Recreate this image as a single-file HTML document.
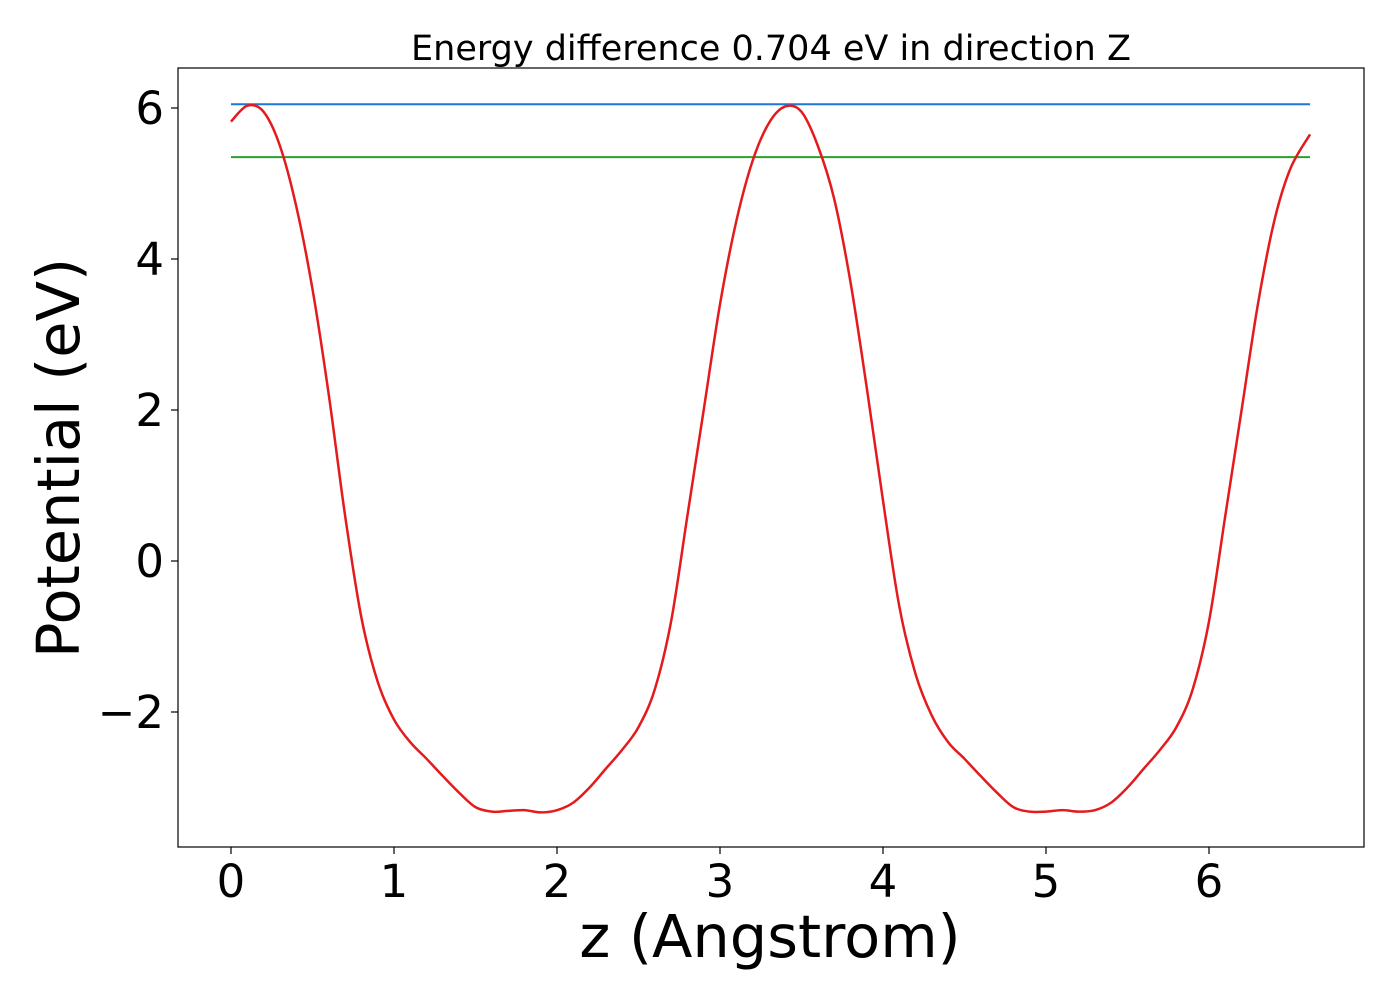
<!DOCTYPE html>
<html><head><meta charset="utf-8"><style>
body{margin:0;background:#fff;}
svg{display:block;font-family:"DejaVu Sans","Liberation Sans",sans-serif;}
</style></head><body>
<svg id="chart" width="1400" height="1000" viewBox="0 0 1400 1000" xmlns="http://www.w3.org/2000/svg">
<rect width="1400" height="1000" fill="#fff"/>
<text x="771" y="60" font-size="35" text-anchor="middle">Energy difference 0.704 eV in direction Z</text>
<g id="marks"></g>
<rect x="178" y="68" width="1186" height="779" fill="none" stroke="#000" stroke-width="1.2"/>
<g id="ticks"></g>
<text x="770" y="957" font-size="59" text-anchor="middle">z (Angstrom)</text>
<text transform="translate(79,458) rotate(-90)" font-size="59" text-anchor="middle">Potential (eV)</text>
</svg>
<script>
const xTicks=[0,1,2,3,4,5,6];
const yTicks=[-2,0,2,4,6];
const zValues=[0,0.1,0.2,0.3,0.4,0.5,0.6,0.7,0.8,0.9,1.0,1.1,1.2,1.3,1.4,1.5,1.6,1.7,1.8,1.9,2.0,2.1,2.2,2.3,2.4,2.5,2.6,2.7,2.8,2.9,3.0,3.1,3.2,3.3,3.4,3.5,3.6,3.7,3.8,3.9,4.0,4.1,4.2,4.3,4.4,4.5,4.6,4.7,4.8,4.9,5.0,5.1,5.2,5.3,5.4,5.5,5.6,5.7,5.8,5.9,6.0,6.1,6.2,6.3,6.4,6.5,6.62];
const potential=[5.82,6.03,5.95,5.5,4.7,3.6,2.2,0.6,-0.75,-1.6,-2.1,-2.4,-2.62,-2.85,-3.07,-3.26,-3.32,-3.31,-3.3,-3.33,-3.3,-3.2,-3.0,-2.75,-2.5,-2.2,-1.7,-0.8,0.6,2.0,3.4,4.5,5.3,5.8,6.02,5.95,5.5,4.8,3.7,2.3,0.8,-0.6,-1.5,-2.05,-2.4,-2.62,-2.85,-3.07,-3.26,-3.32,-3.32,-3.3,-3.32,-3.3,-3.2,-3.0,-2.75,-2.5,-2.2,-1.7,-0.8,0.6,2.0,3.4,4.5,5.2,5.65];
const levelValues=[6.05,5.35];
const levelColors=['#1f77d4','#2ca02c'];
const xMin=0,xMax=6.62;
const X=v=>231+v*163;
const Y=v=>561-v*75.5;
const NS='http://www.w3.org/2000/svg';
const marks=document.getElementById('marks');
const ticks=document.getElementById('ticks');
levelValues.forEach((lv,i)=>{
  const l=document.createElementNS(NS,'line');
  
  
  l.setAttribute('x1',X(xMin));l.setAttribute('x2',X(xMax));
  l.setAttribute('y1',Y(lv));l.setAttribute('y2',Y(lv));
  l.setAttribute('stroke',levelColors[i]);l.setAttribute('stroke-width','2');
  marks.appendChild(l);
});
const pts=zValues.map((z,i)=>[X(z),Y(potential[i])]);
let d='M'+pts[0][0]+','+pts[0][1];
for(let i=0;i<pts.length-1;i++){
  const p0=pts[Math.max(i-1,0)],p1=pts[i],p2=pts[i+1],p3=pts[Math.min(i+2,pts.length-1)];
  const c1=[p1[0]+(p2[0]-p0[0])/6,p1[1]+(p2[1]-p0[1])/6];
  const c2=[p2[0]-(p3[0]-p1[0])/6,p2[1]-(p3[1]-p1[1])/6];
  d+=` C${c1[0]},${c1[1]} ${c2[0]},${c2[1]} ${p2[0]},${p2[1]}`;
}
const path=document.createElementNS(NS,'path');


path.setAttribute('d',d);path.setAttribute('fill','none');
path.setAttribute('stroke','#e41a1c');path.setAttribute('stroke-width','2.5');
marks.appendChild(path);
xTicks.forEach(t=>{
  const l=document.createElementNS(NS,'line');
  
  
  l.setAttribute('x1',X(t));l.setAttribute('x2',X(t));l.setAttribute('y1',847);l.setAttribute('y2',854);
  l.setAttribute('stroke','#000');l.setAttribute('stroke-width','1.2');
  ticks.appendChild(l);
  const tx=document.createElementNS(NS,'text');
  
  
  tx.setAttribute('x',X(t));tx.setAttribute('y',897);tx.setAttribute('font-size','45');tx.setAttribute('text-anchor','middle');
  tx.textContent=t;
  ticks.appendChild(tx);
});
yTicks.forEach(t=>{
  const l=document.createElementNS(NS,'line');
  
  
  l.setAttribute('x1',171);l.setAttribute('x2',178);l.setAttribute('y1',Y(t));l.setAttribute('y2',Y(t));
  l.setAttribute('stroke','#000');l.setAttribute('stroke-width','1.2');
  ticks.appendChild(l);
  const tx=document.createElementNS(NS,'text');
  
  
  tx.setAttribute('x',164);tx.setAttribute('y',Y(t)+16);tx.setAttribute('font-size','45');tx.setAttribute('text-anchor','end');
  tx.textContent=t<0?'\u2212'+Math.abs(t):t;
  ticks.appendChild(tx);
});
</script>
</body></html>
